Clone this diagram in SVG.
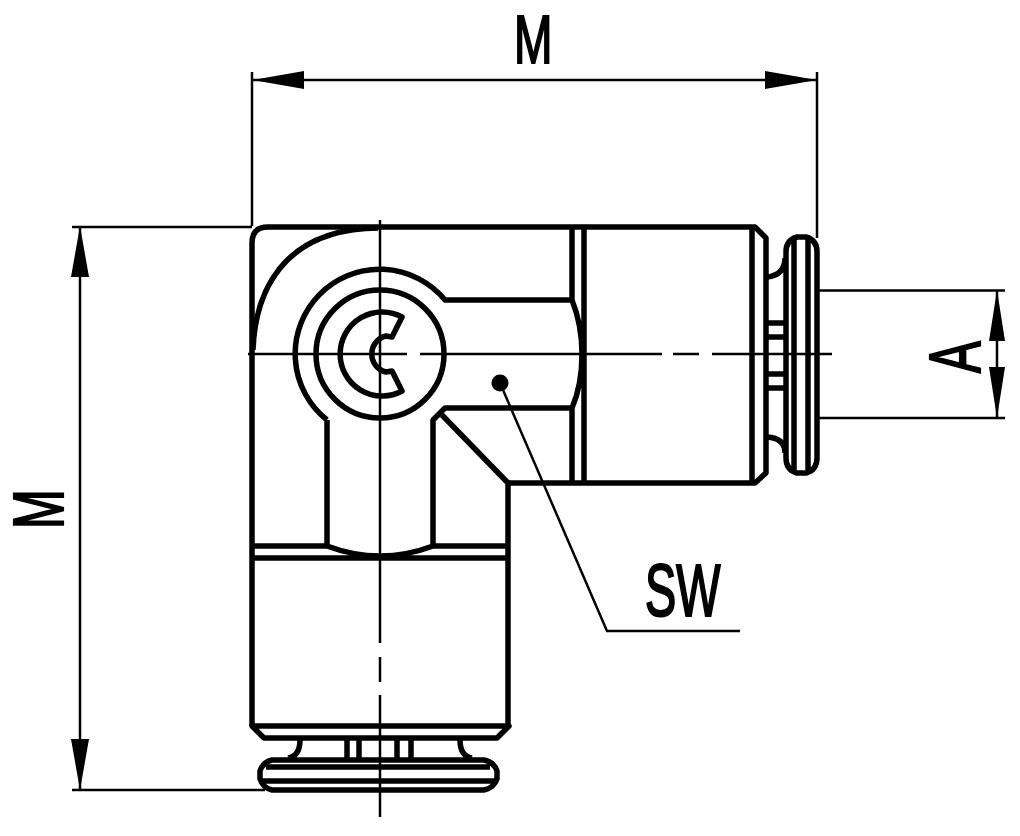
<svg xmlns="http://www.w3.org/2000/svg" width="1020" height="836" viewBox="0 0 1020 836">
<style>
.o{fill:none;stroke:#000;stroke-width:5.5;stroke-linejoin:round}
.t{fill:none;stroke:#000;stroke-width:2.5}
.a{fill:#000}
.l{font-family:"Liberation Sans",Arial,sans-serif;font-size:66px;fill:#000;stroke:#000;stroke-width:2}
</style>
<rect width="1020" height="836" fill="#fff"/>
<g id="fitting">
<path class="o" d="M252 726V243Q252 227 268 227H755L766 238V473L755 483H508V726"/>
<path class="o" d="M252 726L264 738H497L509 726ZM252 546H327M433 546H508M252 558H508M327 420V546Q380 566 433 546V420L445 408H572Q582 385 582 354Q582 325 572 300H445A84.600 84.600 0 1 0 327 420M442 415L508 483M752 227V483M572 227V300M572 408V483M584 227V483"/>
<path class="o" d="M253 350C255 295 280 229 378 228"/>
<circle class="o" cx="380" cy="354" r="64"/>
<path class="o" d="M402 317A42 42 0 1 0 402 391L392 371L386 372A18.500 18.500 0 0 1 386 336L392 337Z"/>
</g>
<g id="right-end">
<path class="o" d="M767 277Q785 275 785 258M767 437Q785 438 785 453M767 323H785M767 337H785M767 374H785M767 388H785"/>
<path class="o" d="M797 237H806Q817 240 817 252V458Q817 470 806 473H797Q786 470 786 458V252Q786 240 797 237ZM794 240V470M808 240V470"/>
</g>
<g id="bottom-end">
<path class="o" d="M300 740Q300 756 288 758M460 740Q460 756 472 758M347 740V758M359 740V758M397 740V758M411 740V758"/>
<path class="o" d="M272 760H484Q494 762 497 771V779Q494 788 484 790H272Q263 788 260 779V771Q263 762 272 760ZM266 767H490M261 781H496"/>
</g>
<g id="connectors">
<path class="t" d="M252 72V226M817 72V238M252 80H817M72 227H252M72 790H265M80 227V790M818 290.500H1005M818 418H1005M997 290V418"/>
<path class="a" d="M252 80L304 71V89ZM817 80L765 71V89ZM80 226L71 277H89ZM80 790L71 739H89ZM997 290L989 341H1005ZM997 418L989 367H1005Z"/>
<path class="t" d="M380 220V643M380 657V682M380 695V817M248 354H407M420 354H662M673 354H699M712 354H832"/>
<circle class="a" cx="500" cy="383" r="8.500"/>
<path class="t" d="M500 383L607 631H740"/>
</g>
<g id="labels">
<text class="l" transform="translate(514 63) scale(.7 1.030)">M</text>
<text class="l" transform="translate(63 529) rotate(-90) scale(.72 1.080)">M</text>
<text class="l" transform="translate(980 373) rotate(-90) scale(.72 1.100)">A</text>
<text class="l" transform="translate(645 616) scale(.71 1.120)">SW</text>
</g>
</svg>
